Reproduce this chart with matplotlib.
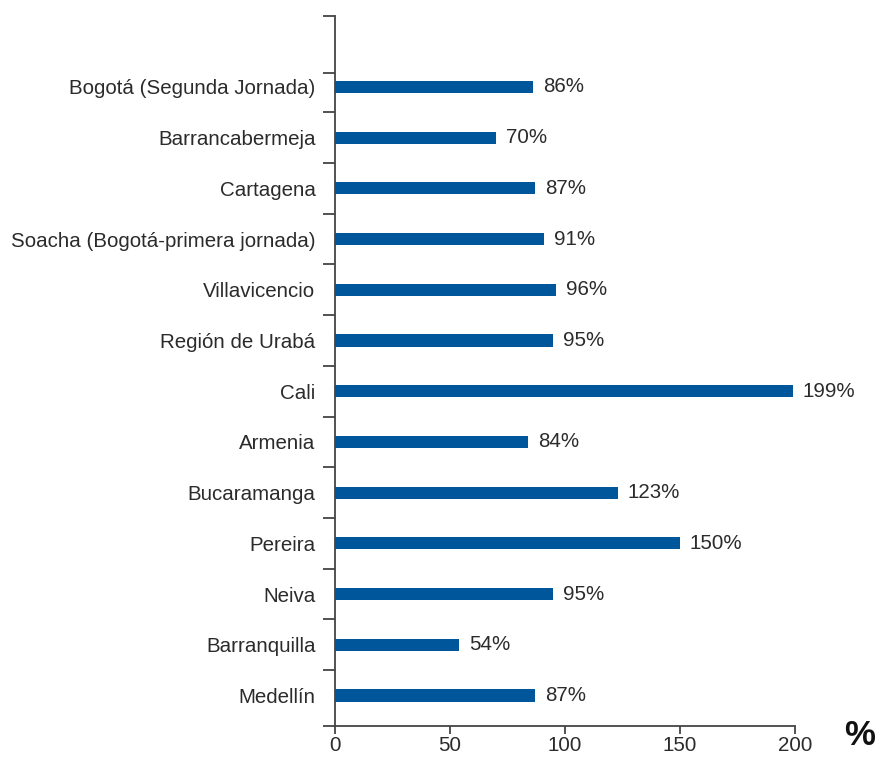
import numpy as np
import matplotlib
matplotlib.use("Agg")
import matplotlib.pyplot as plt

# categories bottom -> top
ciudades = [
    "Medellín", "Barranquilla", "Neiva", "Pereira", "Bucaramanga", "Armenia",
    "Cali", "Región de Urabá", "Villavicencio", "Soacha (Bogotá-primera jornada)",
    "Cartagena", "Barrancabermeja", "Bogotá (Segunda Jornada)",
]
valores = [87, 54, 95, 150, 123, 84, 199, 95, 96, 91, 87, 70, 86]
xticks = [0, 50, 100, 150, 200]

plt.rcParams["font.family"] = ["Liberation Sans", "DejaVu Sans"]
TXT = "#2b2b2b"
AXC = "#444444"
BAR = "#00569a"
FS = 14.8

fig = plt.figure(figsize=(8.78, 7.57), dpi=100)
ax = fig.add_axes([0.3815, 0.041, 0.524, 0.938])

y = np.arange(len(ciudades))
ax.barh(y, valores, height=0.24, color=BAR, zorder=3)

for yi, v in zip(y, valores):
    ax.text(v + 4.3, yi, f"{v}%", va="center", ha="left", fontsize=FS, color=TXT)

ax.set_xlim(0, 200)
ax.set_ylim(-0.6, 13.4)
ax.set_xticks(xticks)
ax.set_xticklabels([str(t) for t in xticks], fontsize=FS, color=TXT)

# category labels without ticks, ticks at boundaries
ax.set_yticks(y)
ax.set_yticklabels(ciudades, fontsize=FS, color=TXT)
ax.tick_params(axis="y", which="major", length=0, pad=14)
ax.set_yticks([-0.6] + list(np.arange(0.5, 12.0, 1.0)) + [12.27, 13.4], minor=True)
ax.tick_params(axis="y", which="minor", length=9, width=1.3, color=AXC, direction="out")
ax.tick_params(axis="x", length=6, width=1.3, color=AXC, direction="out", pad=1.5)

for s in ("top", "right"):
    ax.spines[s].set_visible(False)
for s in ("left", "bottom"):
    ax.spines[s].set_color(AXC)
    ax.spines[s].set_linewidth(1.3)

fig.text(0.997, 0.006, "%", fontsize=25, fontweight="bold", color="#111111",
         ha="right", va="bottom")

plt.savefig("out.png", dpi=100)
